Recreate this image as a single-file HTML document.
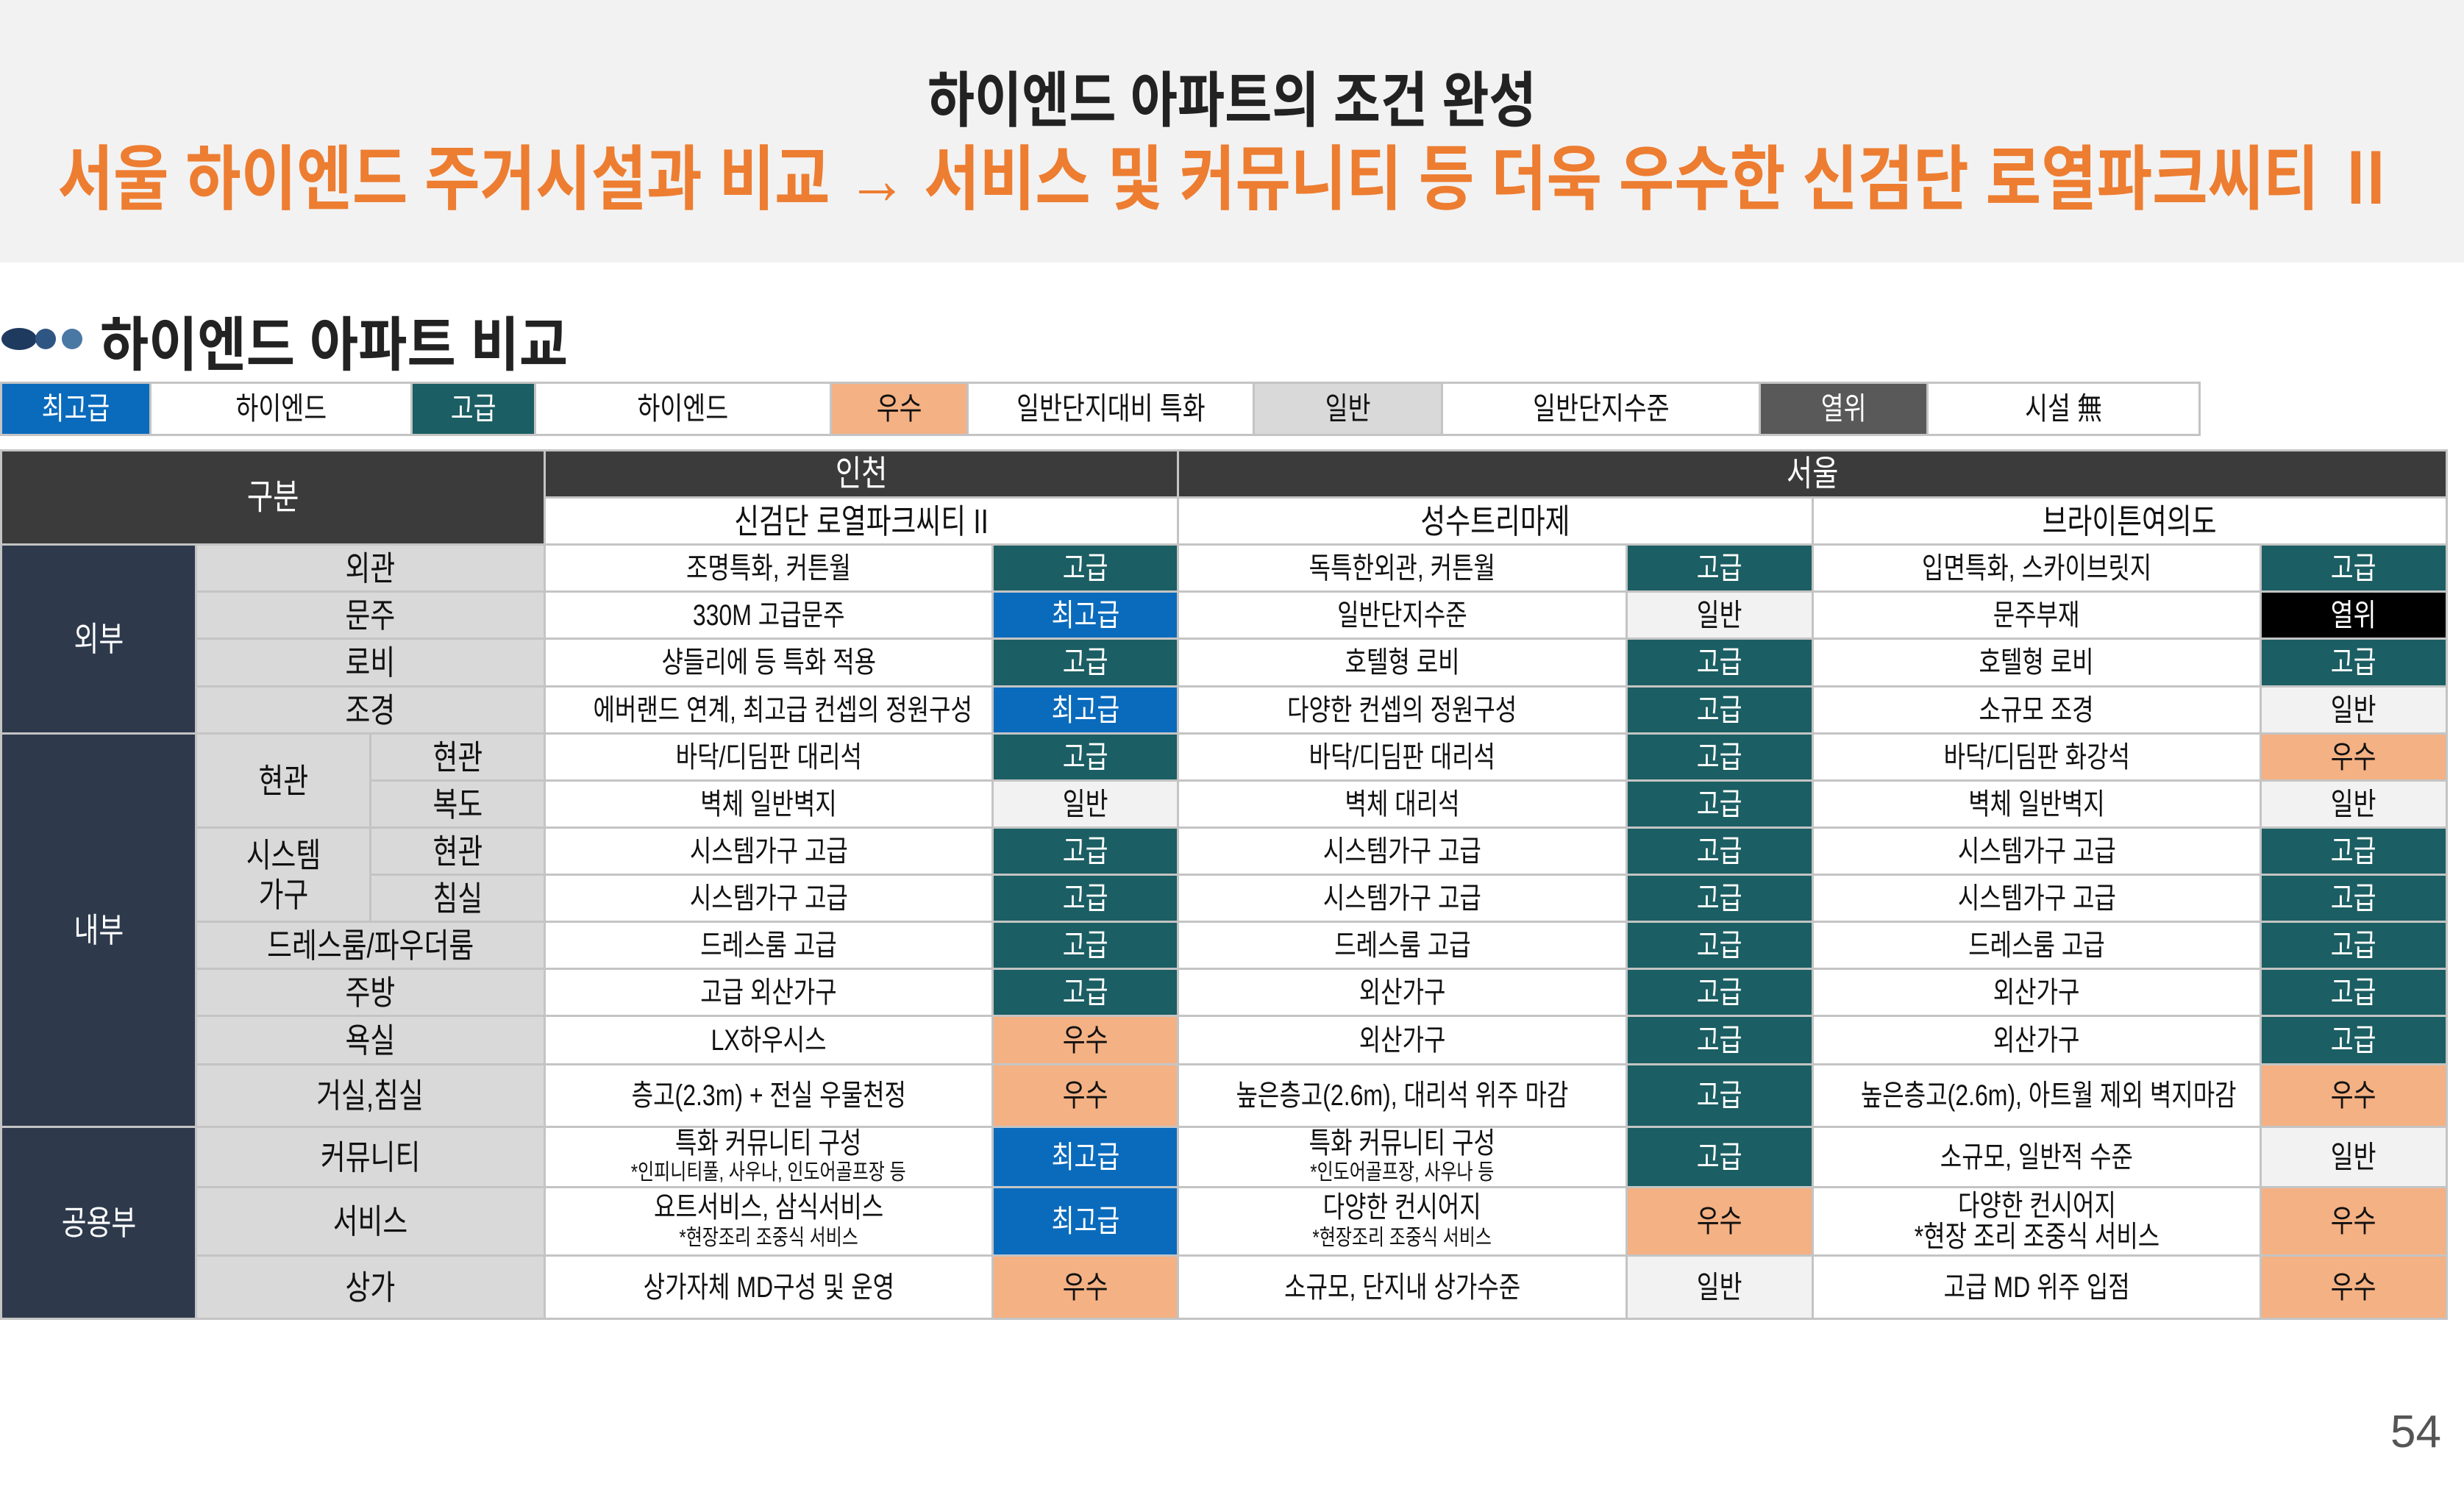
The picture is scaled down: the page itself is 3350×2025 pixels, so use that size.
<!DOCTYPE html>
<html><head><meta charset="utf-8">
<style>
*{margin:0;padding:0;box-sizing:border-box}
body{width:3350px;height:2025px;background:#fff;position:relative;overflow:hidden;font-family:"Liberation Sans","Noto Sans CJK KR",sans-serif;}
.band{position:absolute;left:0;top:0;width:3350px;height:357px;background:#f2f2f2}
.t1{position:absolute;left:0;width:3350px;top:88px;text-align:center;font-size:82px;font-weight:bold;color:#222;line-height:100px;white-space:nowrap}
.t2{position:absolute;left:1668px;top:190px;font-size:96px;font-weight:bold;color:#ed7d31;line-height:110px;white-space:nowrap;transform:translateX(-50%) scaleX(.855)}
.sec{position:absolute;left:136px;top:425px;font-size:80px;font-weight:bold;color:#222;line-height:90px}
.dot{position:absolute;border-radius:50%}
.s{display:inline-block;transform:scaleX(.8);white-space:nowrap}
table{border-collapse:collapse;position:absolute;left:0;table-layout:fixed}
td{border:3px solid #c4c4c4;text-align:center;vertical-align:middle;color:#111;padding:0;overflow:hidden;line-height:1}
.leg{top:519px;font-size:42px}
.leg td{height:71px}
.main{top:611px;font-size:40px}
.dk{background:#3b3b3b;color:#fff;font-size:48px}
.ct{background:#2e3a4c;color:#fff;font-size:46px}
.sb{background:#d9d9d9;font-size:46px}
.hw{background:#fff;font-size:46px}
.a{background:#1b5e63;color:#fff;font-size:42px}
.b{background:#0a6bbd;color:#fff;font-size:42px}
.o{background:#f4b183;font-size:42px}
.g{background:#f2f2f2;font-size:42px}
.k{background:#000;color:#fff;font-size:42px}
.dg{background:#595959;color:#fff}
.sm{font-size:30px;line-height:32px}
.pg{position:absolute;left:3250px;top:1912px;font-size:62px;color:#555}
</style></head><body>
<div class="band"></div>
<div class="t1"><span class="s" style="transform:scaleX(.85)">하이엔드 아파트의 조건 완성</span></div>
<div class="t2">서울 하이엔드 주거시설과 비교 → 서비스 및 커뮤니티 등 더욱 우수한 신검단 로열파크씨티 Ⅱ</div>
<div class="dot" style="left:2px;top:446px;width:48px;height:30px;background:#1f3a5f"></div>
<div class="dot" style="left:48px;top:447px;width:28px;height:28px;background:#2f5683"></div>
<div class="dot" style="left:84px;top:447px;width:28px;height:28px;background:#4a78a5"></div>
<div class="sec"><span class="s" style="transform:scaleX(.9);transform-origin:left">하이엔드 아파트 비교</span></div>

<table class="leg" style="width:2989px">
<colgroup><col style="width:203px"><col style="width:355px"><col style="width:168px"><col style="width:402px"><col style="width:186px"><col style="width:389px"><col style="width:256px"><col style="width:432px"><col style="width:228px"><col style="width:370px"></colgroup>
<tr><td class="b"><span class="s">최고급</span></td><td><span class="s">하이엔드</span></td><td class="a"><span class="s">고급</span></td><td><span class="s">하이엔드</span></td><td class="o"><span class="s">우수</span></td><td><span class="s">일반단지대비 특화</span></td><td style="background:#d9d9d9"><span class="s">일반</span></td><td><span class="s">일반단지수준</span></td><td class="dg"><span class="s">열위</span></td><td><span class="s">시설 無</span></td></tr>
</table>

<table class="main" style="width:3325px">
<colgroup><col style="width:265px"><col style="width:237px"><col style="width:237px"><col style="width:609px"><col style="width:252px"><col style="width:610px"><col style="width:253px"><col style="width:609px"><col style="width:253px"></colgroup>
<tr style="height:64px"><td class="dk" colspan="3" rowspan="2"><span class="s">구분</span></td><td class="dk" colspan="2"><span class="s">인천</span></td><td class="dk" colspan="4"><span class="s">서울</span></td></tr>
<tr style="height:64px"><td class="hw" colspan="2"><span class="s">신검단 로열파크씨티 II</span></td><td class="hw" colspan="2"><span class="s">성수트리마제</span></td><td class="hw" colspan="2"><span class="s">브라이튼여의도</span></td></tr>
<tr style="height:64px"><td class="ct" rowspan="4"><span class="s">외부</span></td><td class="sb" colspan="2"><span class="s">외관</span></td><td><span class="s">조명특화, 커튼월</span></td><td class="a"><span class="s">고급</span></td><td><span class="s">독특한외관, 커튼월</span></td><td class="a"><span class="s">고급</span></td><td><span class="s">입면특화, 스카이브릿지</span></td><td class="a"><span class="s">고급</span></td></tr>
<tr style="height:64px"><td class="sb" colspan="2"><span class="s">문주</span></td><td><span class="s">330M 고급문주</span></td><td class="b"><span class="s">최고급</span></td><td><span class="s">일반단지수준</span></td><td class="g"><span class="s">일반</span></td><td><span class="s">문주부재</span></td><td class="k"><span class="s">열위</span></td></tr>
<tr style="height:65px"><td class="sb" colspan="2"><span class="s">로비</span></td><td><span class="s">샹들리에 등 특화 적용</span></td><td class="a"><span class="s">고급</span></td><td><span class="s">호텔형 로비</span></td><td class="a"><span class="s">고급</span></td><td><span class="s">호텔형 로비</span></td><td class="a"><span class="s">고급</span></td></tr>
<tr style="height:64px"><td class="sb" colspan="2"><span class="s">조경</span></td><td><span class="s">에버랜드 연계, 최고급 컨셉의 정원구성</span></td><td class="b"><span class="s">최고급</span></td><td><span class="s">다양한 컨셉의 정원구성</span></td><td class="a"><span class="s">고급</span></td><td><span class="s">소규모 조경</span></td><td class="g"><span class="s">일반</span></td></tr>
<tr style="height:64px"><td class="ct" rowspan="8"><span class="s">내부</span></td><td class="sb" rowspan="2"><span class="s">현관</span></td><td class="sb"><span class="s">현관</span></td><td><span class="s">바닥/디딤판 대리석</span></td><td class="a"><span class="s">고급</span></td><td><span class="s">바닥/디딤판 대리석</span></td><td class="a"><span class="s">고급</span></td><td><span class="s">바닥/디딤판 화강석</span></td><td class="o"><span class="s">우수</span></td></tr>
<tr style="height:64px"><td class="sb"><span class="s">복도</span></td><td><span class="s">벽체 일반벽지</span></td><td class="g"><span class="s">일반</span></td><td><span class="s">벽체 대리석</span></td><td class="a"><span class="s">고급</span></td><td><span class="s">벽체 일반벽지</span></td><td class="g"><span class="s">일반</span></td></tr>
<tr style="height:64px"><td class="sb" rowspan="2" style="line-height:54px"><span class="s">시스템<br>가구</span></td><td class="sb"><span class="s">현관</span></td><td><span class="s">시스템가구 고급</span></td><td class="a"><span class="s">고급</span></td><td><span class="s">시스템가구 고급</span></td><td class="a"><span class="s">고급</span></td><td><span class="s">시스템가구 고급</span></td><td class="a"><span class="s">고급</span></td></tr>
<tr style="height:64px"><td class="sb"><span class="s">침실</span></td><td><span class="s">시스템가구 고급</span></td><td class="a"><span class="s">고급</span></td><td><span class="s">시스템가구 고급</span></td><td class="a"><span class="s">고급</span></td><td><span class="s">시스템가구 고급</span></td><td class="a"><span class="s">고급</span></td></tr>
<tr style="height:64px"><td class="sb" colspan="2"><span class="s">드레스룸/파우더룸</span></td><td><span class="s">드레스룸 고급</span></td><td class="a"><span class="s">고급</span></td><td><span class="s">드레스룸 고급</span></td><td class="a"><span class="s">고급</span></td><td><span class="s">드레스룸 고급</span></td><td class="a"><span class="s">고급</span></td></tr>
<tr style="height:64px"><td class="sb" colspan="2"><span class="s">주방</span></td><td><span class="s">고급 외산가구</span></td><td class="a"><span class="s">고급</span></td><td><span class="s">외산가구</span></td><td class="a"><span class="s">고급</span></td><td><span class="s">외산가구</span></td><td class="a"><span class="s">고급</span></td></tr>
<tr style="height:66px"><td class="sb" colspan="2"><span class="s">욕실</span></td><td><span class="s">LX하우시스</span></td><td class="o"><span class="s">우수</span></td><td><span class="s">외산가구</span></td><td class="a"><span class="s">고급</span></td><td><span class="s">외산가구</span></td><td class="a"><span class="s">고급</span></td></tr>
<tr style="height:85px"><td class="sb" colspan="2"><span class="s">거실,침실</span></td><td><span class="s">층고(2.3m) + 전실 우물천정</span></td><td class="o"><span class="s">우수</span></td><td><span class="s">높은층고(2.6m), 대리석 위주 마감</span></td><td class="a"><span class="s">고급</span></td><td><span class="s">높은층고(2.6m), 아트월 제외 벽지마감</span></td><td class="o"><span class="s">우수</span></td></tr>
<tr style="height:82px"><td class="ct" rowspan="3"><span class="s">공용부</span></td><td class="sb" colspan="2"><span class="s">커뮤니티</span></td><td style="line-height:36px"><span class="s">특화 커뮤니티 구성<br><span class="sm">*인피니티풀, 사우나, 인도어골프장 등</span></span></td><td class="b"><span class="s">최고급</span></td><td style="line-height:36px"><span class="s">특화 커뮤니티 구성<br><span class="sm">*인도어골프장, 사우나 등</span></span></td><td class="a"><span class="s">고급</span></td><td><span class="s">소규모, 일반적 수준</span></td><td class="g"><span class="s">일반</span></td></tr>
<tr style="height:93px"><td class="sb" colspan="2"><span class="s">서비스</span></td><td style="line-height:38px"><span class="s">요트서비스, 삼식서비스<br><span class="sm">*현장조리 조중식 서비스</span></span></td><td class="b"><span class="s">최고급</span></td><td style="line-height:38px"><span class="s">다양한 컨시어지<br><span class="sm">*현장조리 조중식 서비스</span></span></td><td class="o"><span class="s">우수</span></td><td style="line-height:42px"><span class="s">다양한 컨시어지<br>*현장 조리 조중식 서비스</span></td><td class="o"><span class="s">우수</span></td></tr>
<tr style="height:86px"><td class="sb" colspan="2"><span class="s">상가</span></td><td><span class="s">상가자체 MD구성 및 운영</span></td><td class="o"><span class="s">우수</span></td><td><span class="s">소규모, 단지내 상가수준</span></td><td class="g"><span class="s">일반</span></td><td><span class="s">고급 MD 위주 입점</span></td><td class="o"><span class="s">우수</span></td></tr>
</table>
<div class="pg">54</div>
</body></html>
